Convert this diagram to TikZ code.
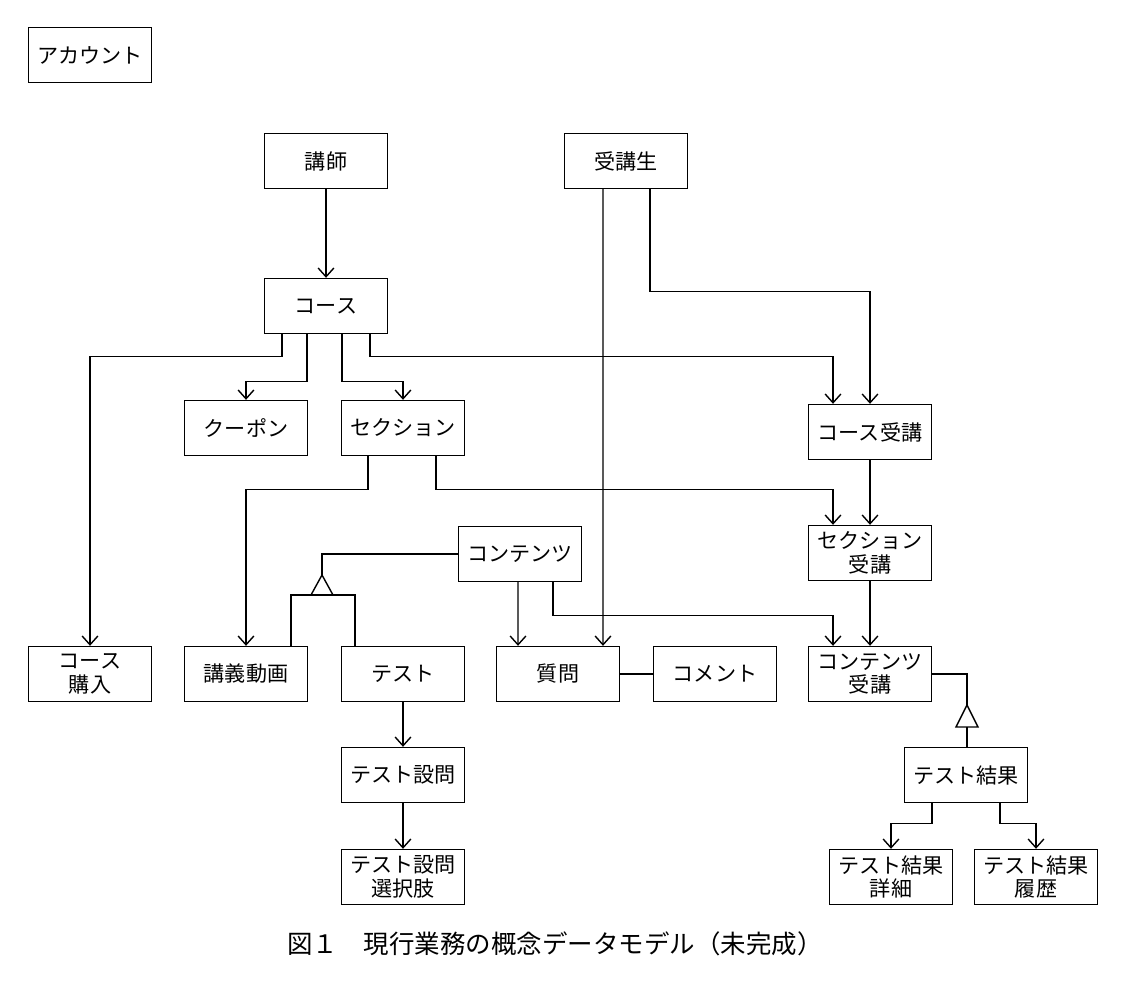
\documentclass[tikz,border=0pt]{standalone}
\usepackage{fontspec}
\setmainfont{Noto Sans CJK JP}
\usetikzlibrary{arrows.meta}
\begin{document}
\begin{tikzpicture}[x=0.02cm,y=-0.02cm,
    ent/.style={draw,thick,minimum width=2.46cm,minimum height=1.1cm,align=center,
      inner sep=1pt,font=\fontsize{12}{13.5}\selectfont},
    rel/.style={thick,-{Straight Barb[length=5pt,width=9pt]}},
    line/.style={thick}]
    \useasboundingbox (0,0) rectangle (1129,998);

    % Entities
    \node[ent] (account) at (90,55) {アカウント};
    \node[ent] (lecturer) at (326,161) {講師};
    \node[ent] (student) at (626,161) {受講生};
    \node[ent] (course) at (326,306) {コース};
    \node[ent] (coupon) at (246,428) {クーポン};
    \node[ent] (section) at (403,428) {セクション};
    \node[ent] (cenroll) at (870,432) {コース受講};
    \node[ent] (content) at (520,554) {コンテンツ};
    \node[ent] (senroll) at (870,553) {セクション\\受講};
    \node[ent] (purchase) at (90,674) {コース\\購入};
    \node[ent] (video) at (246,674) {講義動画};
    \node[ent] (test) at (403,674) {テスト};
    \node[ent] (question) at (558,674) {質問};
    \node[ent] (comment) at (715,674) {コメント};
    \node[ent] (centroll) at (870,674) {コンテンツ\\受講};
    \node[ent] (result) at (966,775) {テスト結果};
    \node[ent] (tq) at (403,775) {テスト設問};
    \node[ent] (tqc) at (403,877) {テスト設問\\選択肢};
    \node[ent] (rdetail) at (891,877) {テスト結果\\詳細};
    \node[ent] (rhist) at (1036,877) {テスト結果\\履歴};

    % Caption
    \node[font=\fontsize{14.5}{16}\selectfont] (caption) at (555,944)
      {図１　現行業務の概念データモデル（未完成）};

    % Relationships
    \draw[rel] (lecturer) -- (course);
    \draw[rel] ([xshift=-0.88cm]course.south) -- ++(0,22) -| (purchase.north);
    \draw[rel] ([xshift=-0.38cm]course.south) -- ++(0,47) -| (coupon.north);
    \draw[rel] ([xshift=0.32cm]course.south) -- ++(0,47) -| (section.north);
    \draw[rel] ([xshift=0.88cm]course.south) -- ++(0,22) -| ([xshift=-0.74cm]cenroll.north);
    \draw[rel] ([xshift=-0.46cm]student.south) -- ([xshift=0.9cm]question.north);
    \draw[rel] ([xshift=0.48cm]student.south) -- ++(0,102) -| (cenroll.north);
    \draw[rel] ([xshift=-0.7cm]section.south) -- ++(0,33) -| (video.north);
    \draw[rel] ([xshift=0.66cm]section.south) -- ++(0,33) -| ([xshift=-0.74cm]senroll.north);
    \draw[rel] (cenroll) -- (senroll);
    \draw[rel] (senroll) -- (centroll);
    \draw[rel] ([xshift=-0.04cm]content.south) -- ([xshift=-0.8cm]question.north);
    \draw[rel] ([xshift=0.66cm]content.south) -- ++(0,33) -| ([xshift=-0.74cm]centroll.north);
    \draw[rel] (test) -- (tq);
    \draw[rel] (tq) -- (tqc);
    \draw[rel] ([xshift=-0.68cm]result.south) -- ++(0,20) -| (rdetail.north);
    \draw[rel] ([xshift=0.68cm]result.south) -- ++(0,20) -| (rhist.north);
    \draw[line] (question) -- (comment);

    % Supertype / subtype
    \coordinate (inh1) at (322,575);
    \coordinate (inh1b) at (322,595);
    \draw[line] (content.west) -| (inh1);
    \draw[line] (inh1) -- (311,595) -- (333,595) -- cycle;
    \draw[line] ([xshift=0.9cm]video.north) |- (inh1b) -| ([xshift=-0.96cm]test.north);
    \coordinate (inh2) at (967,705);
    \coordinate (inh2b) at (967,727);
    \draw[line] (centroll.east) -| (inh2);
    \draw[line] (inh2) -- (956,727) -- (978,727) -- cycle;
    \draw[line] (inh2b) -- (inh2b |- result.north);
\end{tikzpicture}
\end{document}
